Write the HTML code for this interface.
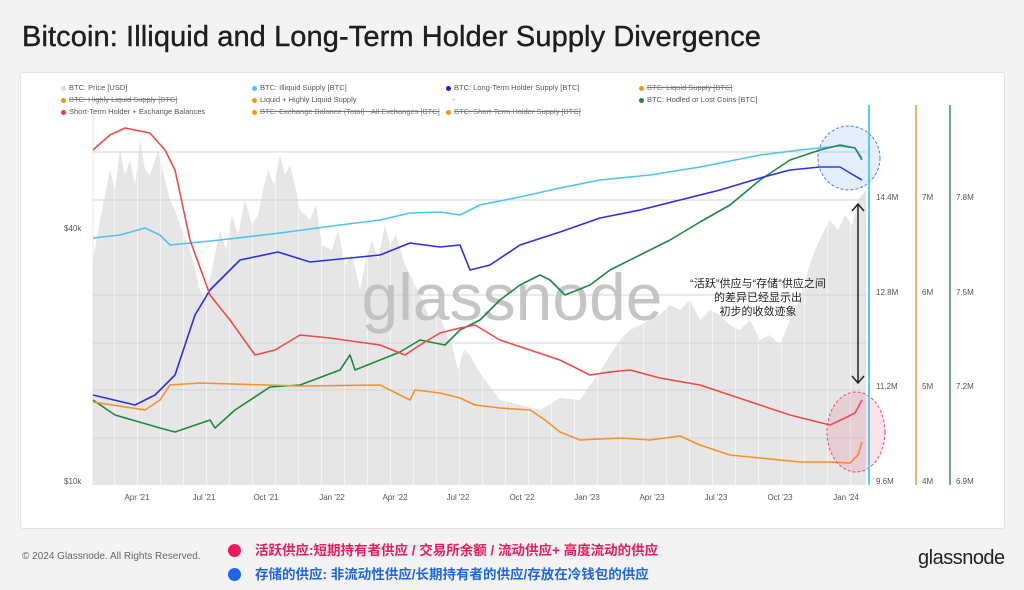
<!DOCTYPE html>
<html><head><meta charset="utf-8"><style>
body{margin:0;width:1024px;height:590px;background:#f3f3f4;font-family:"Liberation Sans","Noto Sans CJK SC",sans-serif;position:relative;overflow:hidden}
.title{position:absolute;left:22px;top:21px;font-size:29px;color:#1e1e1e;letter-spacing:0.1px;-webkit-text-stroke:0.4px #1e1e1e}
.card{position:absolute;left:20px;top:72px;width:983px;height:455px;background:#fff;border:1px solid #e4e4e4;border-radius:3px}
.leg{position:absolute;font-size:7.5px;color:#555;white-space:nowrap}
.leg i{display:inline-block;width:5px;height:5px;border-radius:50%;margin-right:3px;vertical-align:middle}
.s{text-decoration:line-through;color:#777}
.copy{position:absolute;left:22px;top:551px;font-size:10px;color:#666}
.logo{position:absolute;left:918px;top:547px;font-size:20px;color:#222;letter-spacing:-.5px}
.b1,.b2{position:absolute;left:228px;font-size:13.5px;font-weight:bold;white-space:nowrap}
.b1{top:539px;color:#f0195a}.b2{top:563px;color:#1a66f0}
.b1 i,.b2 i{display:inline-block;width:13px;height:13px;border-radius:50%;margin-right:14px;vertical-align:-2px}
</style></head><body>
<div class="title">Bitcoin: Illiquid and Long-Term Holder Supply Divergence</div>
<div class="card"></div>
<div class="leg" style="left:61px;top:83px"><i style="background:#ddd"></i>BTC: Price [USD]</div>
<div class="leg" style="left:252px;top:83px"><i style="background:#4cc3f5"></i>BTC: Illiquid Supply [BTC]</div>
<div class="leg" style="left:446px;top:83px"><i style="background:#1a1fe0"></i>BTC: Long-Term Holder Supply [BTC]</div>
<div class="leg s" style="left:639px;top:83px"><i style="background:#f7931a"></i>BTC: Liquid Supply [BTC]</div>
<div class="leg s" style="left:61px;top:95px"><i style="background:#f7931a"></i>BTC: Highly Liquid Supply [BTC]</div>
<div class="leg" style="left:252px;top:95px"><i style="background:#f7931a"></i>Liquid + Highly Liquid Supply</div>
<div class="leg" style="left:446px;top:95px">&nbsp;&nbsp;&nbsp;-</div>
<div class="leg" style="left:639px;top:95px"><i style="background:#1a8a3e"></i>BTC: Hodled or Lost Coins [BTC]</div>
<div class="leg" style="left:61px;top:107px"><i style="background:#f33"></i>Short-Term Holder + Exchange Balances</div>
<div class="leg s" style="left:252px;top:107px"><i style="background:#f7931a"></i>BTC: Exchange Balance (Total) - All Exchanges [BTC]</div>
<div class="leg s" style="left:446px;top:107px"><i style="background:#f7931a"></i>BTC: Short-Term Holder Supply [BTC]</div>
<svg style="position:absolute;left:0;top:0" width="1024" height="590" font-family="Liberation Sans, sans-serif">
<defs><pattern id="vl" x="93" width="23" height="10" patternUnits="userSpaceOnUse"><rect width="23" height="10" fill="#e6e6e6"/><rect x="21" width="1" height="10" fill="#f6f6f6"/></pattern></defs>
<line x1="93" y1="100" x2="93" y2="485" stroke="#e5e5e5"/>
<path d="M93,485 L93,260 100,220 106,190 110,170 115,190 120,150 125,175 130,160 135,185 140,140 145,170 150,175 155,160 158,150 165,180 170,200 175,210 182,230 190,250 200,290 205,300 212,270 220,230 226,250 232,215 238,235 245,200 252,225 258,215 263,190 268,170 274,185 280,155 285,175 290,165 296,190 300,210 310,220 316,205 322,245 332,250 338,230 345,265 352,255 360,290 366,260 372,240 378,260 385,225 390,245 396,235 405,265 415,285 422,300 430,320 438,310 445,330 452,345 458,370 464,350 470,355 478,370 485,380 500,400 520,405 540,410 560,398 580,400 590,385 600,372 610,355 620,340 630,330 640,325 650,320 660,315 670,305 680,310 690,300 700,320 710,310 720,315 730,325 740,330 750,320 760,340 770,335 780,345 790,320 800,300 808,270 815,250 822,235 830,220 838,230 845,215 852,225 858,200 866,190 866,485Z" fill="url(#vl)"/>
<g stroke="#d4d4d4" stroke-width="1"><line x1="93" y1="152" x2="866" y2="152"/><line x1="93" y1="200" x2="866" y2="200"/><line x1="93" y1="295" x2="866" y2="295"/><line x1="93" y1="343" x2="866" y2="343"/><line x1="93" y1="390" x2="866" y2="390"/><line x1="93" y1="438" x2="866" y2="438"/></g>
<text x="512" y="320" font-size="66" fill="#bcbcbc" text-anchor="middle" opacity="0.85">glassnode</text>
<g fill="none" stroke-width="1.6" stroke-linejoin="round">
<polyline stroke="#4cc3f5" points="93,238 120,235 145,228 160,235 170,245 220,240 280,233 340,225 380,220 410,213 440,212 460,215 480,205 520,197 560,188 600,180 650,175 700,167 760,155 800,150 840,146 855,148 862,158"/>
<polyline stroke="#1a8a3e" points="93,400 115,415 160,428 175,432 210,420 215,428 235,410 270,387 300,385 340,370 350,355 355,370 400,352 420,340 445,345 460,330 480,320 500,300 520,285 540,275 550,280 565,295 590,285 610,270 640,255 670,240 700,222 730,205 760,180 790,160 820,150 840,145 855,148 862,160"/>
<polyline stroke="#2a2ff0" points="93,395 135,405 155,395 175,375 195,315 210,290 240,260 278,252 310,262 350,258 380,255 410,243 440,247 460,245 470,270 490,265 520,245 560,232 600,218 640,210 680,200 720,190 760,178 790,170 820,167 840,167 850,173 862,180"/>
<polyline stroke="#f7902a" points="93,402 145,410 160,400 170,385 200,383 300,386 380,385 410,400 415,390 440,393 460,398 475,405 500,408 530,410 545,420 560,432 580,440 620,438 650,440 680,436 700,445 730,455 760,458 800,462 830,462 850,463 858,455 862,442"/>
<polyline stroke="#f24848" points="93,150 110,135 125,128 150,133 165,150 175,170 190,240 210,295 230,320 255,355 275,350 300,335 330,338 380,345 405,355 420,345 440,333 460,328 475,325 500,340 530,350 560,360 590,375 610,372 630,370 660,378 700,385 730,395 760,405 790,415 810,420 830,425 845,418 855,413 862,400"/>
</g>
<ellipse cx="849" cy="158" rx="31" ry="32" fill="rgba(80,140,255,0.15)" stroke="#4a7df0" stroke-dasharray="3,2"/>
<ellipse cx="856" cy="432" rx="29" ry="40" fill="rgba(240,100,140,0.18)" stroke="#f0457a" stroke-dasharray="3,2"/>
<line x1="858" y1="205" x2="858" y2="382" stroke="#222" stroke-width="1.5"/>
<polyline points="852,211 858,204 864,211" fill="none" stroke="#222" stroke-width="1.5"/>
<polyline points="852,376 858,383 864,376" fill="none" stroke="#222" stroke-width="1.5"/>
<g font-size="11" fill="#222" text-anchor="middle" font-family="Liberation Sans, Noto Sans CJK SC, sans-serif">
<text x="758" y="287">“活跃”供应与“存储”供应之间</text><text x="758" y="301">的差异已经显示出</text><text x="758" y="315">初步的收敛迹象</text></g>
<line x1="869" y1="105" x2="869" y2="485" stroke="#5ac8f5" stroke-width="2"/>
<line x1="916" y1="105" x2="916" y2="485" stroke="#f7963a" stroke-width="1.5"/>
<line x1="950" y1="105" x2="950" y2="485" stroke="#2a9a55" stroke-width="1.5"/>
<g font-size="8" fill="#555">
<text x="876" y="200">14.4M</text><text x="876" y="295">12.8M</text><text x="876" y="389">11.2M</text><text x="876" y="484">9.6M</text>
<text x="922" y="200">7M</text><text x="922" y="295">6M</text><text x="922" y="389">5M</text><text x="922" y="484">4M</text>
<text x="956" y="200">7.8M</text><text x="956" y="295">7.5M</text><text x="956" y="389">7.2M</text><text x="956" y="484">6.9M</text>
<text x="64" y="231">$40k</text><text x="64" y="484">$10k</text></g>
<g font-size="8" fill="#555" text-anchor="middle">
<text x="137" y="500">Apr '21</text><text x="204" y="500">Jul '21</text><text x="266" y="500">Oct '21</text><text x="332" y="500">Jan '22</text><text x="395" y="500">Apr '22</text><text x="458" y="500">Jul '22</text><text x="522" y="500">Oct '22</text><text x="587" y="500">Jan '23</text><text x="652" y="500">Apr '23</text><text x="716" y="500">Jul '23</text><text x="780" y="500">Oct '23</text><text x="846" y="500">Jan '24</text></g>
</svg>
<div class="b1"><i style="background:#f0195a"></i>活跃供应:短期持有者供应 / 交易所余额 / 流动供应+ 高度流动的供应</div>
<div class="b2"><i style="background:#1a66f0"></i>存储的供应: 非流动性供应/长期持有者的供应/存放在冷钱包的供应</div>
<div class="copy">© 2024 Glassnode. All Rights Reserved.</div>
<div class="logo">glassnode</div>
</body></html>
